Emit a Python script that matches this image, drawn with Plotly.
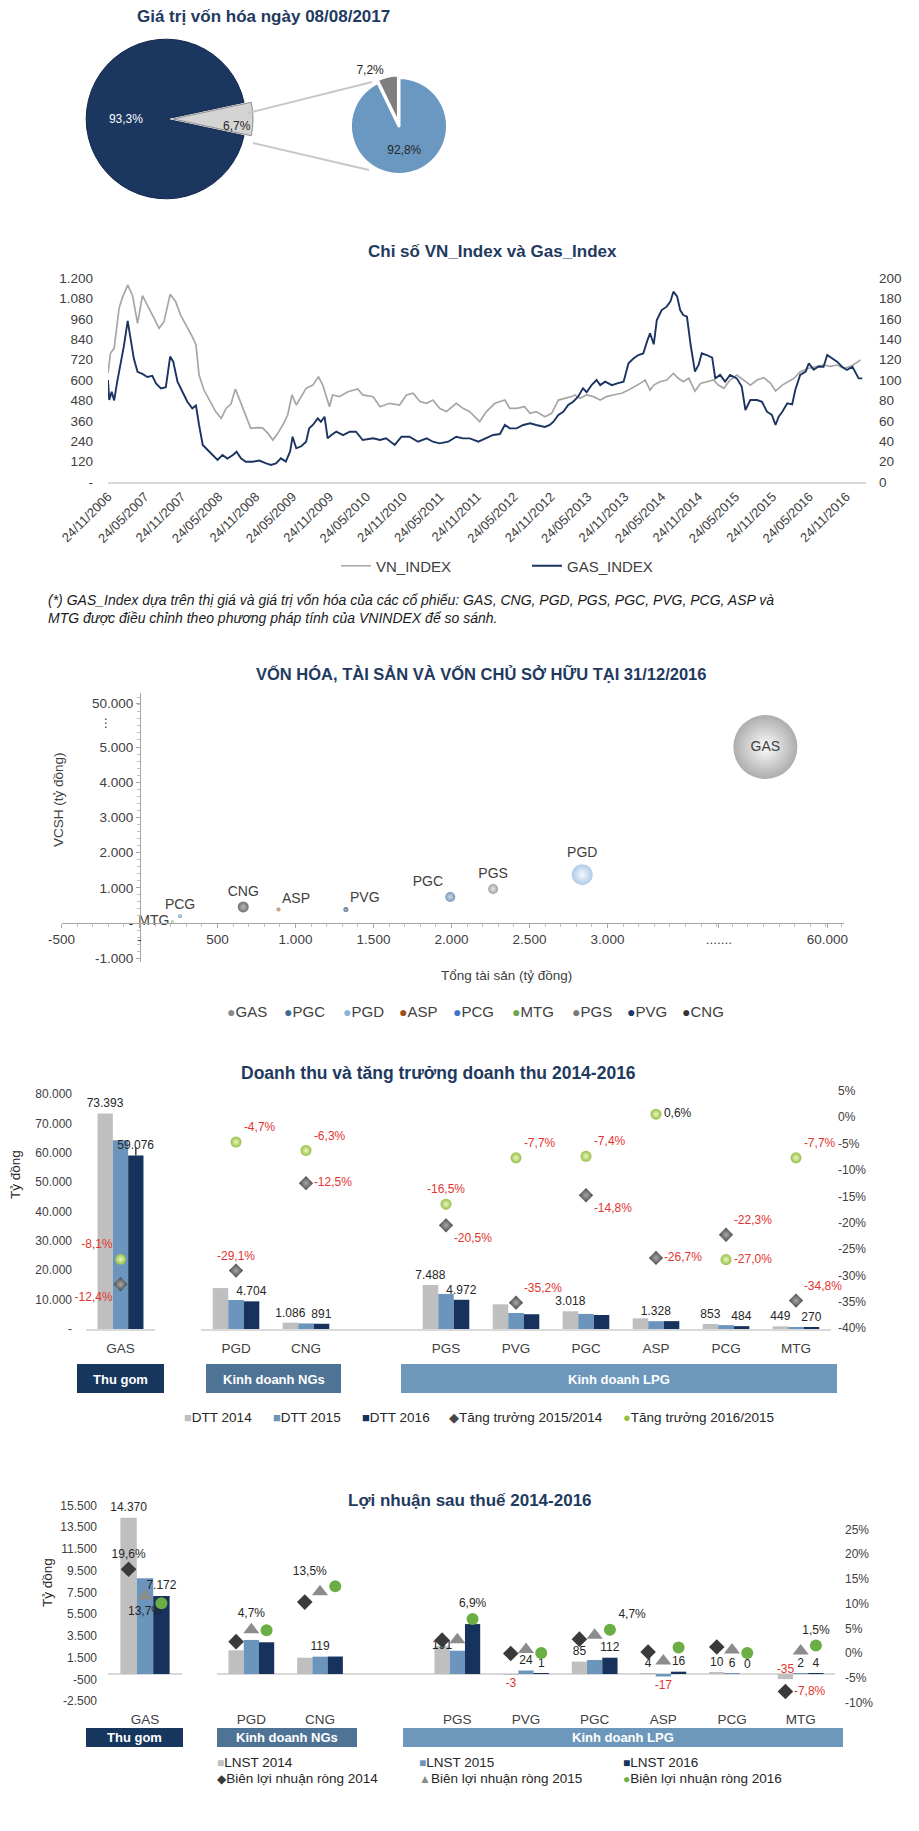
import plotly.graph_objects as go

# Page body has an 8px margin: the figure is shifted so its content lands where the reference has it.
OX, OY = 8, 8
W, H = 911, 1823
FONT = "Arial, 'Liberation Sans', 'DejaVu Sans', sans-serif"
TITLE_C = "#1f3a5f"
TXT = "#262626"
AXC = "#404040"
RED = "#e3342f"

# ======================= DATA =======================
# 1) Giá trị vốn hóa ngày 08/08/2017
pie1_labels = ["Các cổ phiếu khác", "GAS"]
pie1_values = [6.7, 93.3]
pie2_labels = ["Nhóm 1", "Nhóm 2"]
pie2_values = [92.8, 7.2]

# 2) VN_Index & Gas_Index  (x = months since 24/11/2006)
line_tick_labels = ["24/11/2006", "24/05/2007", "24/11/2007", "24/05/2008", "24/11/2008",
                    "24/05/2009", "24/11/2009", "24/05/2010", "24/11/2010", "24/05/2011",
                    "24/11/2011", "24/05/2012", "24/11/2012", "24/05/2013", "24/11/2013",
                    "24/05/2014", "24/11/2014", "24/05/2015", "24/11/2015", "24/05/2016",
                    "24/11/2016"]
vn_month = [0, 0.4, 1.0, 1.8, 2.3, 3.2, 4.0, 4.8, 5.6, 6.7, 7.5, 8.3, 9.1, 10.1, 11.0, 11.8,
            12.9, 13.7, 14.3, 14.8, 15.6, 16.7, 17.5, 18.4, 19.2, 20.0, 20.7, 21.3, 22.4, 23.2,
            24.1, 25.1, 26.0, 26.8, 27.6, 28.4, 29.2, 29.9, 30.6, 31.4, 32.2, 33.3, 34.2, 34.9,
            36.0, 36.5, 37.6, 39.0, 40.6, 41.4, 43.1, 44.2, 45.8, 47.4, 48.5, 49.6, 50.7, 51.8,
            52.8, 53.9, 55.0, 56.6, 57.7, 58.8, 60.4, 61.5, 62.9, 64.5, 65.3, 66.4, 67.7, 68.6,
            69.6, 71.0, 72.1, 73.2, 74.3, 75.3, 75.9, 76.7, 77.8, 78.9, 80.0, 81.0, 82.1, 83.5,
            84.6, 85.7, 86.5, 87.3, 88.1, 88.7, 89.7, 90.8, 91.9, 92.7, 93.5, 94.4, 95.4, 96.3,
            97.3, 98.4, 99.2, 100.1, 101.1, 102.2, 103.3, 104.4, 105.5, 106.6, 107.7, 108.5,
            109.6, 110.6, 111.5, 112.5, 113.9, 115.3, 116.3, 117.4, 118.5, 119.6, 120.7, 121.5,
            122.3]
vn_value = [639, 757, 786, 1022, 1080, 1159, 1096, 933, 1096, 1022, 963, 904, 943, 1104, 1061,
            982, 912, 855, 806, 629, 541, 472, 414, 374, 433, 460, 547, 492, 384, 316, 320, 318,
            286, 247, 286, 335, 394, 512, 453, 502, 551, 570, 620, 570, 443, 512, 502, 531, 547,
            512, 502, 443, 463, 453, 512, 522, 473, 463, 482, 433, 414, 463, 433, 414, 355, 414,
            463, 482, 433, 433, 443, 404, 414, 384, 404, 482, 492, 502, 512, 492, 512, 502, 482,
            502, 512, 522, 541, 561, 580, 600, 541, 570, 590, 600, 639, 610, 590, 610, 535, 580,
            590, 600, 570, 551, 600, 629, 600, 570, 600, 614, 580, 535, 570, 590, 610, 649, 669,
            680, 688, 680, 688, 669, 680, 698, 718]
gas_month = [0, 0.2, 0.6, 1.0, 1.5, 2.1, 2.6, 3.2, 3.7, 4.2, 4.8, 5.6, 6.4, 7.2, 7.8, 8.6, 9.4,
             10.1, 10.6, 11.3, 12.1, 12.9, 13.7, 14.3, 14.8, 15.4, 16.2, 17.0, 17.8, 18.6, 19.4,
             20.3, 20.9, 21.6, 22.4, 23.5, 24.6, 25.7, 26.5, 27.3, 28.1, 28.9, 29.6, 30.0, 30.6,
             31.4, 32.2, 32.7, 33.3, 34.1, 34.6, 35.2, 35.7, 36.3, 37.1, 38.2, 39.3, 40.3, 41.4,
             43.1, 44.2, 45.2, 46.6, 47.7, 49.0, 50.4, 51.8, 52.8, 53.9, 55.3, 56.6, 57.7, 58.8,
             60.2, 61.5, 62.6, 63.7, 64.5, 65.3, 66.4, 67.5, 68.6, 69.6, 71.0, 71.8, 72.4, 73.2,
             74.0, 74.8, 75.6, 76.4, 77.2, 77.8, 78.6, 79.4, 80.0, 80.8, 81.9, 82.9, 83.8, 84.6,
             85.4, 86.2, 87.0, 87.6, 88.1, 88.7, 89.2, 90.0, 90.8, 91.4, 91.9, 92.5, 93.0, 93.5,
             94.1, 94.7, 95.4, 96.0, 96.5, 97.3, 98.2, 98.7, 99.5, 100.3, 101.1, 102.2, 103.0,
             103.6, 104.4, 105.5, 106.3, 107.1, 107.9, 108.5, 109.0, 109.6, 110.4, 111.2, 111.7,
             112.5, 113.4, 113.9, 114.7, 115.5, 116.3, 116.9, 117.7, 118.5, 119.3, 120.1, 121.0,
             121.5, 122.0, 122.6]
gas_value = [100, 80.4, 88.5, 80, 98.4, 118, 134, 158, 141, 121, 108, 106, 103, 104, 96.7, 91.8,
             93, 123, 118, 98.3, 88.5, 78.7, 72.2, 75, 55.9, 36.3, 31.4, 26.5, 21.6, 26.5, 23,
             26.5, 29.7, 23.2, 19.9, 19.9, 21, 18.3, 16.7, 18.3, 23.2, 20, 30, 44.4, 33, 35, 39.5,
             52.6, 55.9, 62.4, 59, 64, 42.8, 46, 49.3, 46, 49.3, 49.3, 41.2, 42.8, 41.2, 42.8,
             36.3, 44.4, 44.4, 39.5, 42.8, 39.5, 37.9, 39.5, 44.4, 42.8, 42.8, 39.5, 42.8, 46.1,
             47, 55.9, 52.6, 52.6, 55.9, 57.5, 55.9, 54, 55.9, 59.1, 65.7, 68.9, 75.5, 78.7, 83.6,
             91.8, 88, 95.1, 100, 95, 98.4, 95, 97, 98.4, 116.4, 121, 124.5, 126, 137.6, 145.8,
             135, 158.8, 168.6, 171.9, 176.8, 186.6, 182, 168.6, 163.7, 162, 134.3, 108.2, 115,
             126.2, 124.5, 122, 101.6, 105, 98.4, 104.9, 101.6, 93.5, 70.6, 80.4, 80.4, 78.7,
             68.9, 65.7, 55.9, 64, 68.9, 77.1, 76, 90.2, 104.9, 108.2, 116.4, 110, 113.2, 113,
             124.5, 121, 118, 113, 109.8, 113, 106.6, 101.6, 101.6]

# 3) Vốn hóa, tài sản và VCSH (x/y as plotted on the chart's broken scale for GAS)
bub_names = ["GAS", "PGC", "PGD", "ASP", "PCG", "MTG", "PGS", "PVG", "CNG"]
bub_assets = [4012, 1992, 2838, 891, 260, 210, 2267, 1323, 665]
bub_equity = [5000, 740, 1374, 380, 190, 40, 967, 380, 455]
bub_cap = [73000, 1780, 7860, 285, 285, 160, 1780, 445, 2150]
bub_xtick_vals = [-500, 0, 500, 1000, 1500, 2000, 2500, 3000, 3714, 4410]
bub_xtick_text = ["-500", "-", "500", "1.000", "1.500", "2.000", "2.500", "3.000", ".......", "60.000"]
bub_ytick_vals = [-1000, 0, 1000, 2000, 3000, 4000, 5000, 6250]
bub_ytick_text = ["-1.000", "-", "1.000", "2.000", "3.000", "4.000", "5.000", "50.000"]

# 4) Doanh thu & tăng trưởng 2014-2016
cats = ["GAS", "PGD", "CNG", "PGS", "PVG", "PGC", "ASP", "PCG", "MTG"]
rev_2014 = [73393, 6962, 1086, 7488, 4200, 3018, 1812, 853, 449]
rev_2015 = [64292, 4936, 950, 5953, 2722, 2571, 1328, 663, 293]
rev_2016 = [59076, 4704, 891, 4972, 2512, 2381, 1336, 484, 270]
growth_15_14 = [-12.4, -29.1, -12.5, -20.5, -35.2, -14.8, -26.7, -22.3, -34.8]
growth_16_15 = [-8.1, -4.7, -6.3, -16.5, -7.7, -7.4, 0.6, -27.0, -7.7]

# 5) Lợi nhuận sau thuế 2014-2016
profit_2014 = [14370, 163, 112, 191, -3, 85, 4, 10, -35]
profit_2015 = [8800, 234, 119, 160, 24, 96, -17, 6, 2]
profit_2016 = [7172, 218, 120, 343, 1, 112, 16, 0, 4]
margin_2014 = [19.6, 2.3, 10.3, 2.6, -0.1, 2.8, 0.2, 1.2, -7.8]
margin_2015 = [13.7, 4.7, 12.4, 2.7, 0.7, 3.6, -1.6, 0.6, 0.4]
margin_2016 = [12.1, 4.6, 13.5, 6.9, 0.0, 4.7, 1.1, 0.0, 1.5]

segments = ["Thu gom", "Kinh doanh NGs", "Kinh doanh LPG"]

# ======================= HELPERS =======================
def fx(px):
    return (px - OX) / W


def fy(py):
    return 1 - (py - OY) / H


def vn_num(v):
    s = f"{abs(v):,.0f}".replace(",", ".")
    return ("-" if v < 0 else "") + s


def vn_pct(v):
    return f"{v:.1f}%".replace(".", ",")


def tick_num(v):
    return "-" if v == 0 else vn_num(v)


ann = []
shapes = []


def text(px, py, t, size=12, color=TXT, xanchor="center", yanchor="middle", bold=False, **kw):
    ann.append(dict(x=fx(px), y=fy(py), xref="paper", yref="paper",
                    text=f"<b>{t}</b>" if bold else t, showarrow=False,
                    xanchor=xanchor, yanchor=yanchor,
                    font=dict(family=FONT, size=size, color=color), **kw))


def rect(x0, y0, x1, y1, color):
    shapes.append(dict(type="rect", xref="paper", yref="paper", x0=fx(x0), x1=fx(x1),
                       y0=fy(y1), y1=fy(y0), fillcolor=color, line=dict(width=0)))


def seg(x0, y0, x1, y1, color, width):
    shapes.append(dict(type="line", xref="paper", yref="paper", x0=fx(x0), x1=fx(x1),
                       y0=fy(y0), y1=fy(y1), line=dict(color=color, width=width)))


fig = go.Figure()

# ======================= 1) PIES =======================
text(263, 16, "Giá trị vốn hóa ngày 08/08/2017", size=17, color=TITLE_C, bold=True)
fig.add_trace(go.Pie(
    labels=pie1_labels, values=pie1_values, sort=False, direction="clockwise",
    rotation=90 - pie1_values[0] * 1.8, pull=[0.09, 0],
    marker=dict(colors=["#d4d4d4", "#1b365f"], line=dict(color=["#8c8c8c", "#10264a"], width=1)),
    textposition=["none", "inside"], texttemplate="%{value:.1f}%",
    insidetextorientation="horizontal",
    insidetextfont=dict(family=FONT, size=12, color="white"),
    domain=dict(x=[fx(79), fx(253)], y=[fy(206), fy(32)]),
    showlegend=False, hoverinfo="skip"))
text(237, 126, vn_pct(pie1_values[0]), size=12, color=TXT)
fig.add_trace(go.Pie(
    labels=pie2_labels, values=pie2_values, sort=False, direction="clockwise", rotation=0,
    pull=[0, 0.05],
    marker=dict(colors=["#6b98c1", "#7f7f7f"], line=dict(color="white", width=3)),
    textposition=["inside", "outside"], texttemplate="%{value:.1f}%",
    insidetextorientation="horizontal",
    insidetextfont=dict(family=FONT, size=12, color=TXT),
    outsidetextfont=dict(family=FONT, size=12, color=TXT),
    domain=dict(x=[fx(348), fx(450)], y=[fy(177), fy(75)]),
    showlegend=False, hoverinfo="skip"))
seg(248, 113, 372, 82, "#c8c8c8", 2)
seg(253, 143, 369, 170, "#c8c8c8", 2)

# ======================= 2) LINE CHART =======================
text(492, 252, "Chỉ số VN_Index và Gas_Index", size=17, color=TITLE_C, bold=True)
fig.add_trace(go.Scatter(x=vn_month, y=vn_value, mode="lines", name="VN_INDEX",
                         line=dict(color="#a6a6a6", width=1.7), xaxis="x", yaxis="y",
                         hoverinfo="skip"))
fig.add_trace(go.Scatter(x=gas_month, y=gas_value, mode="lines", name="GAS_INDEX",
                         line=dict(color="#1b3462", width=1.9), xaxis="x", yaxis="y2",
                         hoverinfo="skip"))
text(46, 590, "<i>(*) GAS_Index dựa trên thị giá và giá trị vốn hóa của các cổ phiếu: GAS, CNG, PGD, "
     "PGS, PGC, PVG, PCG, ASP và<br>MTG được điều chỉnh theo phương pháp tính của VNINDEX để so "
     "sánh.</i>", size=14, color="#1a1a1a", xanchor="left", yanchor="top", align="left")

# ======================= 3) BUBBLE =======================
text(481, 673, "VỐN HÓA, TÀI SẢN VÀ VỐN CHỦ SỞ HỮU TẠI 31/12/2016", size=16.5, color=TITLE_C, bold=True)
bub_colors = ["#8a8a8a", "#3f6b96", "#8db4dc", "#9c4a1a", "#3f75c0", "#6aa84f", "#7a7a7a",
              "#1f3864", "#333333"]
bub_hi = ["#fafafa", "#b8cde3", "#eef5fc", "#e0a880", "#b5cdf0", "#cfe8c0", "#dcdcdc",
          "#8a9cc0", "#9a9a9a"]
bub_tp = ["middle center", "top left", "top center", "top right", "top center", "middle left",
          "top center", "top right", "top center"]
fig.add_trace(go.Scatter(
    x=bub_assets, y=bub_equity, mode="markers+text", text=bub_names, textposition=bub_tp,
    marker=dict(size=bub_cap, sizemode="area", sizeref=2 * max(bub_cap) / 64 ** 2,
                color=bub_colors, gradient=dict(type="radial", color=bub_hi), line=dict(width=0)),
    textfont=dict(family=FONT, size=14, color=AXC), xaxis="x2", yaxis="y3",
    showlegend=False, cliponaxis=False, hoverinfo="skip"))
text(106, 723, "⋮", size=12, color=AXC)
text(58, 800, "VCSH (tỷ đồng)", size=13.5, color=AXC, textangle=-90)
text(507, 975, "Tổng tài sản (tỷ đồng)", size=13.5, color=AXC)
bub_leg_x = [231, 288, 347, 403, 457, 516, 576, 631, 686]
for name, c, xx in zip(bub_names, bub_colors, bub_leg_x):
    text(xx - 6, 1012, f"<span style='font-size:14px;color:{c}'>●</span>{name}", size=15,
         color=AXC, xanchor="left")

# ======================= 4) REVENUE =======================
BW = 0.222
bar_colors = ["#bfbfbf", "#6c95bd", "#17325c"]
pos_other = [0, 1, 3, 4, 5, 6, 7, 8]
text(438, 1073, "Doanh thu và tăng trưởng doanh thu 2014-2016", size=17.5, color=TITLE_C, bold=True)
rev_series = [rev_2014, rev_2015, rev_2016]
rev_label_show = [[1, 0, 1, 1, 0, 1, 0, 1, 1],
                  [0, 0, 0, 0, 0, 0, 1, 0, 0],
                  [1, 1, 1, 1, 0, 0, 0, 1, 1]]
for k in range(3):
    vals = rev_series[k]
    txt = [vn_num(v) if s else "" for v, s in zip(vals, rev_label_show[k])]
    common = dict(width=BW, offset=(k - 1.5) * BW, marker=dict(color=bar_colors[k], line=dict(width=0)),
                  textposition="outside", constraintext="none", cliponaxis=False,
                  textfont=dict(family=FONT, size=12, color=TXT), showlegend=False,
                  hoverinfo="skip")
    extra = {}
    if k == 2:
        extra["error_y"] = dict(type="data", array=[2900], arrayminus=[0], symmetric=False,
                                width=0, thickness=1.5, color=AXC)
    fig.add_trace(go.Bar(x=[0], y=[vals[0]], text=[txt[0]], xaxis="x3", yaxis="y4", **common, **extra))
    fig.add_trace(go.Bar(x=pos_other, y=vals[1:], text=txt[1:], xaxis="x4", yaxis="y6", **common))

g1514_tp = ["bottom left", "top center", "middle right", "bottom right", "top right",
            "bottom right", "middle right", "top right", "top right"]
g1615_tp = ["top left", "top right", "top right", "top center", "top right", "top right",
            "middle right", "middle right", "top right"]
for vals, tp, sym, col, hi in [(growth_15_14, g1514_tp, "diamond", "#474747", "#a8a8a8"),
                               (growth_16_15, g1615_tp, "circle", "#96bf45", "#eaf7c4")]:
    t = [vn_pct(v) for v in vals]
    tc = [RED if v < 0 else TXT for v in vals]
    mk = dict(symbol=sym, size=11, color=col, gradient=dict(type="radial", color=hi),
              line=dict(width=0))
    fig.add_trace(go.Scatter(x=[0], y=[vals[0]], mode="markers+text", text=[t[0]],
                             textposition=[tp[0]], textfont=dict(family=FONT, size=12, color=[tc[0]]),
                             marker=mk, xaxis="x3", yaxis="y5", showlegend=False,
                             cliponaxis=False, hoverinfo="skip"))
    fig.add_trace(go.Scatter(x=pos_other, y=vals[1:], mode="markers+text", text=t[1:],
                             textposition=tp[1:], textfont=dict(family=FONT, size=12, color=tc[1:]),
                             marker=mk, xaxis="x4", yaxis="y7", showlegend=False,
                             cliponaxis=False, hoverinfo="skip"))

seg_cols = ["#17365d", "#4f7394", "#6e98bb"]
for (x0, x1), name, c in zip([(77, 164), (206, 341), (401, 837)], segments, seg_cols):
    rect(x0, 1364, x1, 1393, c)
    text((x0 + x1) / 2, 1379, name, size=13, color="white", bold=True)
text(15, 1175, "Tỷ đồng", size=13.5, color=TXT, textangle=-90)
rev_leg = [("■", bar_colors[0], "DTT 2014", 182), ("■", bar_colors[1], "DTT 2015", 271),
           ("■", bar_colors[2], "DTT 2016", 360), ("◆", "#474747", "Tăng trưởng 2015/2014", 447),
           ("●", "#96bf45", "Tăng trưởng 2016/2015", 621)]
for g, c, name, xx in rev_leg:
    text(xx, 1417, f"<span style='font-size:13px;color:{c}'>{g}</span>{name}", size=13.5,
         color=TXT, xanchor="left")

# ======================= 5) PROFIT =======================
text(470, 1500, "Lợi nhuận sau thuế 2014-2016", size=17, color=TITLE_C, bold=True)
profit_series = [profit_2014, profit_2015, profit_2016]
margin_series = [margin_2014, margin_2015, margin_2016]
p_label_show = [[1, 0, 0, 1, 1, 1, 1, 1, 1],
                [0, 0, 1, 0, 1, 0, 1, 1, 1],
                [1, 0, 0, 0, 1, 1, 1, 1, 1]]
p_label_pos_override = {(0, "PGS"): "middle center", (0, "MTG"): "top center"}
m_label_pos = [{"GAS": "top center", "MTG": "middle right"},
               {"GAS": "bottom center", "PGD": "top center"},
               {"CNG": "top left", "PGS": "top center", "PGC": "top right", "MTG": "top center"}]
m_style = [("diamond", 12, "#3a3a3a"), ("triangle-up", 14, "#8c8c8c"), ("circle", 12, "#6aae45")]
for k in range(3):
    vals = profit_series[k]
    common = dict(width=BW, offset=(k - 1.5) * BW, marker=dict(color=bar_colors[k], line=dict(width=0)),
                  showlegend=False, hoverinfo="skip")
    fig.add_trace(go.Bar(x=[0], y=[vals[0]], xaxis="x5", yaxis="y8", **common))
    fig.add_trace(go.Bar(x=pos_other, y=vals[1:], xaxis="x6", yaxis="y10", **common))
for k in range(3):
    vals = profit_series[k]
    sh = (k - 1) * BW
    t = [vn_num(v) if s else "" for v, s in zip(vals, p_label_show[k])]
    tp = [p_label_pos_override.get((k, c), "bottom center" if v < 0 else "top center")
          for v, c in zip(vals, cats)]
    tc = [RED if v < 0 else TXT for v in vals]
    common = dict(mode="markers+text", marker=dict(size=4, opacity=0), showlegend=False,
                  cliponaxis=False, hoverinfo="skip")
    fig.add_trace(go.Scatter(x=[0 + sh], y=[vals[0]], text=[t[0]], textposition=[tp[0]],
                             textfont=dict(family=FONT, size=12, color=[tc[0]]),
                             xaxis="x5", yaxis="y8", **common))
    fig.add_trace(go.Scatter(x=[p + sh for p in pos_other], y=vals[1:], text=t[1:],
                             textposition=tp[1:], textfont=dict(family=FONT, size=12, color=tc[1:]),
                             xaxis="x6", yaxis="y10", **common))
    mv = margin_series[k]
    mt = [vn_pct(v) if c in m_label_pos[k] else "" for v, c in zip(mv, cats)]
    mtp = [m_label_pos[k].get(c, "top center") for c in cats]
    mtc = [RED if v < 0 else TXT for v in mv]
    sym, sz, col = m_style[k]
    mk = dict(symbol=sym, size=sz, color=col, line=dict(width=0))
    fig.add_trace(go.Scatter(x=[0 + sh], y=[mv[0]], mode="markers+text", text=[mt[0]],
                             textposition=[mtp[0]], textfont=dict(family=FONT, size=12, color=[mtc[0]]),
                             marker=mk, xaxis="x5", yaxis="y9", showlegend=False,
                             cliponaxis=False, hoverinfo="skip"))
    fig.add_trace(go.Scatter(x=[p + sh for p in pos_other], y=mv[1:], mode="markers+text",
                             text=mt[1:], textposition=mtp[1:],
                             textfont=dict(family=FONT, size=12, color=mtc[1:]),
                             marker=mk, xaxis="x6", yaxis="y11", showlegend=False,
                             cliponaxis=False, hoverinfo="skip"))

for (x0, x1), name, c in zip([(86, 183), (217, 357), (403, 843)], segments, seg_cols):
    rect(x0, 1728, x1, 1747, c)
    text((x0 + x1) / 2, 1737.5, name, size=13, color="white", bold=True)
text(47, 1583, "Tỷ đồng", size=13.5, color=TXT, textangle=-90)
prof_leg = [("■", bar_colors[0], "LNST 2014", 215, 1762), ("■", bar_colors[1], "LNST 2015", 417, 1762),
            ("■", bar_colors[2], "LNST 2016", 621, 1762),
            ("◆", "#3a3a3a", "Biên lợi nhuận ròng 2014", 215, 1778),
            ("▲", "#8c8c8c", "Biên lợi nhuận ròng 2015", 417, 1778),
            ("●", "#6aae45", "Biên lợi nhuận ròng 2016", 621, 1778)]
for g, c, name, xx, yy in prof_leg:
    text(xx, yy, f"<span style='font-size:12px;color:{c}'>{g}</span>{name}", size=13.5,
         color=TXT, xanchor="left")

# ======================= AXES =======================
tf = dict(family=FONT, size=13.5, color=AXC)
tf12 = dict(family=FONT, size=12, color=AXC)
noax = dict(showgrid=False, zeroline=False, automargin=False)
lay = dict(
    # line chart
    xaxis=dict(domain=[fx(108), fx(866)], range=[0, 123.2], anchor="y", tickmode="array",
               tickvals=[6 * i for i in range(len(line_tick_labels))], ticktext=line_tick_labels,
               tickangle=-45, showline=True, linecolor="#d9d9d9", linewidth=2, ticks="",
               tickfont=dict(family=FONT, size=13, color=AXC), **noax),
    yaxis=dict(domain=[fy(482), fy(278)], range=[0, 1200], anchor="x", tickmode="array",
               tickvals=list(range(0, 1201, 120)), ticktext=[tick_num(v) for v in range(0, 1201, 120)],
               ticks="", ticklabelstandoff=14, tickfont=tf, **noax),
    yaxis2=dict(overlaying="y", side="right", anchor="x", range=[0, 200], tickmode="array",
                tickvals=list(range(0, 201, 20)), ticktext=[str(v) for v in range(0, 201, 20)],
                ticks="", ticklabelstandoff=12, tickfont=tf, **noax),
    # bubble
    xaxis2=dict(domain=[fx(61.5), fx(844)], range=[-500, 4516], anchor="free", position=fy(923),
                tickmode="array", tickvals=bub_xtick_vals, ticktext=bub_xtick_text,
                showline=True, linecolor="#a6a6a6", linewidth=1, ticks="outside", ticklen=4,
                tickcolor="#a6a6a6",
                minor=dict(ticks="outside", ticklen=3, dtick=100, tick0=0, tickcolor="#bfbfbf"),
                tickfont=tf, **noax),
    yaxis3=dict(domain=[fy(962), fy(693)], range=[-1108, 6534], anchor="free", position=fx(140),
                tickmode="array", tickvals=bub_ytick_vals, ticktext=bub_ytick_text,
                showline=True, linecolor="#a6a6a6", linewidth=1, ticks="outside", ticklen=4,
                tickcolor="#a6a6a6",
                minor=dict(ticks="outside", ticklen=3, dtick=200, tick0=0, tickcolor="#bfbfbf"),
                tickfont=tf, **noax),
    # revenue GAS
    xaxis3=dict(domain=[fx(86), fx(155)], range=[-0.5, 0.5], anchor="y4", tickmode="array",
                tickvals=[0], ticktext=cats[:1], showline=True, linecolor="#d9d9d9", linewidth=2,
                ticks="", ticklabelstandoff=6, tickfont=dict(family=FONT, size=13.5, color=AXC), **noax),
    yaxis4=dict(domain=[fy(1329), fy(1085)], range=[0, 83064], anchor="x3", tickmode="array",
                tickvals=list(range(0, 80001, 10000)),
                ticktext=[tick_num(v) for v in range(0, 80001, 10000)],
                ticks="", ticklabelstandoff=13, tickfont=tf12, **noax),
    yaxis5=dict(overlaying="y4", anchor="x3", range=[-20.1, 21.9], visible=False, **noax),
    # revenue NGs + LPG
    xaxis4=dict(domain=[fx(201), fx(831)], range=[-0.5, 8.5], anchor="y6", tickmode="array",
                tickvals=pos_other, ticktext=cats[1:], showline=True, linecolor="#d9d9d9",
                linewidth=2, ticks="", ticklabelstandoff=6,
                tickfont=dict(family=FONT, size=13.5, color=AXC), **noax),
    yaxis6=dict(domain=[fy(1329), fy(1085)], range=[0, 41500], anchor="x4", visible=False, **noax),
    yaxis7=dict(overlaying="y6", side="right", anchor="x4", range=[-40.19, 6.13], tickmode="array",
                tickvals=list(range(-40, 6, 5)), ticktext=[f"{v}%" for v in range(-40, 6, 5)],
                ticks="", ticklabelstandoff=6, tickfont=tf12, **noax),
    # profit GAS
    xaxis5=dict(domain=[fx(108), fx(182)], range=[-0.5, 0.5], anchor="y8", tickmode="array",
                tickvals=[0], ticktext=cats[:1], showline=False, ticks="", ticklabelstandoff=6,
                tickfont=dict(family=FONT, size=13.5, color=AXC), **noax),
    yaxis8=dict(domain=[fy(1703), fy(1500)], range=[-2665, 15993], anchor="x5", tickmode="array",
                tickvals=list(range(-2500, 15501, 2000)),
                ticktext=[tick_num(v) for v in range(-2500, 15501, 2000)],
                ticks="", ticklabelstandoff=10, tickfont=tf12, showgrid=False, automargin=False,
                zeroline=True, zerolinecolor="#d9d9d9", zerolinewidth=2),
    yaxis9=dict(overlaying="y8", anchor="x5", range=[-9.93, 34.88], visible=False, **noax),
    # profit NGs + LPG
    xaxis6=dict(domain=[fx(217), fx(835)], range=[-0.5, 8.5], anchor="y10", tickmode="array",
                tickvals=pos_other, ticktext=cats[1:], showline=False, ticks="",
                ticklabelstandoff=6, tickfont=dict(family=FONT, size=13.5, color=AXC), **noax),
    yaxis10=dict(domain=[fy(1703), fy(1500)], range=[-199.2, 1195.4], anchor="x6",
                 showticklabels=False, ticks="", showgrid=False, automargin=False, zeroline=True,
                 zerolinecolor="#d9d9d9", zerolinewidth=2),
    yaxis11=dict(overlaying="y10", side="right", anchor="x6", range=[-10.12, 30.97],
                 tickmode="array", tickvals=list(range(-10, 26, 5)),
                 ticktext=[f"{v}%" for v in range(-10, 26, 5)], ticks="", ticklabelstandoff=9,
                 tickfont=tf12, **noax),
)

fig.update_layout(
    width=W, height=H, margin=dict(l=0, r=0, t=0, b=0, autoexpand=False), autosize=False,
    paper_bgcolor="white", plot_bgcolor="white", separators=",.",
    font=dict(family=FONT, color=TXT),
    showlegend=True,
    legend=dict(orientation="h", x=fx(336), y=fy(566), xanchor="left", yanchor="middle",
                font=dict(family=FONT, size=15, color=AXC), bgcolor="rgba(0,0,0,0)",
                entrywidth=146, entrywidthmode="pixels", itemwidth=30),
    annotations=ann, shapes=shapes, **lay)

fig.write_html("out.html")
